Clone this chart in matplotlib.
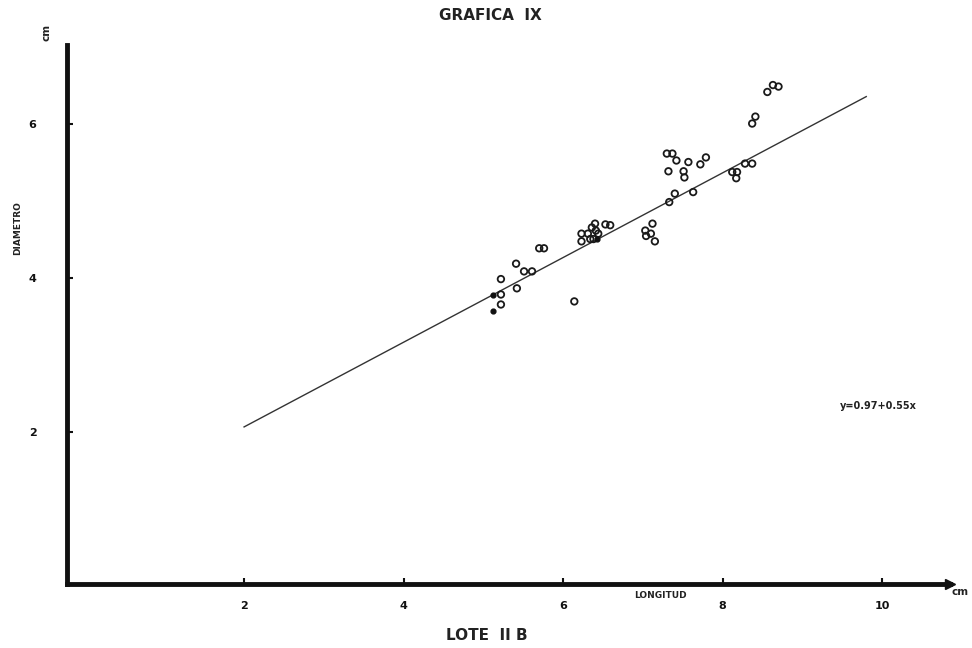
import matplotlib.pyplot as plt
import numpy as np

# longitud (cm) y diametro (cm)
longitud = [5.22, 5.22, 5.22, 5.41, 5.42, 5.51, 5.61, 5.70, 5.76, 6.14,
            6.23, 6.23, 6.31, 6.34, 6.36, 6.40, 6.41, 6.44, 6.38, 6.53, 6.59,
            7.12, 7.03, 7.10, 7.04, 7.15,
            7.30, 7.37, 7.42, 7.32, 7.51, 7.52, 7.57, 7.72, 7.79, 7.63, 7.40, 7.33,
            8.12, 8.18, 8.17, 8.28, 8.37, 8.37, 8.41, 8.56, 8.63, 8.70]
diametro = [3.79, 3.66, 3.99, 4.19, 3.87, 4.09, 4.09, 4.39, 4.39, 3.70,
            4.58, 4.48, 4.58, 4.51, 4.66, 4.71, 4.62, 4.58, 4.51, 4.70, 4.69,
            4.71, 4.62, 4.58, 4.55, 4.48,
            5.62, 5.62, 5.53, 5.39, 5.39, 5.31, 5.51, 5.48, 5.57, 5.12, 5.10, 4.99,
            5.38, 5.38, 5.30, 5.49, 5.49, 6.01, 6.10, 6.42, 6.51, 6.49]
# puntos rellenos
long_llenos = [5.12, 5.12, 6.43]
diam_llenos = [3.78, 3.58, 4.51]

a, b = 0.97, 0.55
recta_x = np.array([2.0, 9.8])

xticks = [2, 4, 6, 8, 10]
yticks = [2, 4, 6]

fig = plt.figure(figsize=(9.72, 6.48), dpi=100)
ax = fig.add_axes([67/972, 1-584/648, (950-67)/972, (584-45)/648])

ax.plot(recta_x, a + b*recta_x, color='#333333', lw=1.0)
ax.scatter(longitud, diametro, s=22, facecolors='none', edgecolors='#1a1a1a', linewidths=1.3, zorder=3)
ax.scatter(long_llenos, diam_llenos, s=12, color='#111111', zorder=3)

ax.set_xlim(-0.22, 10.85)
ax.set_ylim(0.03, 7.03)

for s in ['top', 'right']:
    ax.spines[s].set_visible(False)
for s in ['left', 'bottom']:
    ax.spines[s].set_linewidth(3.5)
    ax.spines[s].set_color('#111111')
ax.plot([1.0], [0.0], marker='>', ms=7, color='#111111', transform=ax.transAxes, clip_on=False)

ax.set_xticks(xticks)
ax.set_yticks(yticks)
ax.tick_params(direction='in', length=4, width=1.5, colors='#111111', labelsize=8)
ax.tick_params(axis='x', pad=12)
ax.tick_params(axis='y', pad=22)
for lab in ax.get_xticklabels() + ax.get_yticklabels():
    lab.set_fontweight('bold')

fig.text(490/972, 1-15/648, 'GRAFICA  IX', ha='center', va='center', fontsize=11, fontweight='bold', color='#222222')
fig.text(487/972, 1-636/648, 'LOTE  II B', ha='center', va='center', fontsize=11, fontweight='bold', color='#222222')
fig.text(18/972, 1-228/648, 'DIAMETRO', rotation=90, ha='center', va='center', fontsize=6.5, fontweight='bold', color='#222222')
fig.text(660/972, 1-596/648, 'LONGITUD', ha='center', va='center', fontsize=6.5, fontweight='bold', color='#222222')
fig.text(46/972, 1-32/648, 'cm', rotation=90, ha='center', va='center', fontsize=7.5, fontweight='bold', color='#222222')
fig.text(960/972, 1-592/648, 'cm', ha='center', va='center', fontsize=7.5, fontweight='bold', color='#222222')
fig.text(878/972, 1-406/648, 'y=0.97+0.55x', ha='center', va='center', fontsize=7, fontweight='bold', color='#222222')

fig.savefig('out.png', dpi=100)
